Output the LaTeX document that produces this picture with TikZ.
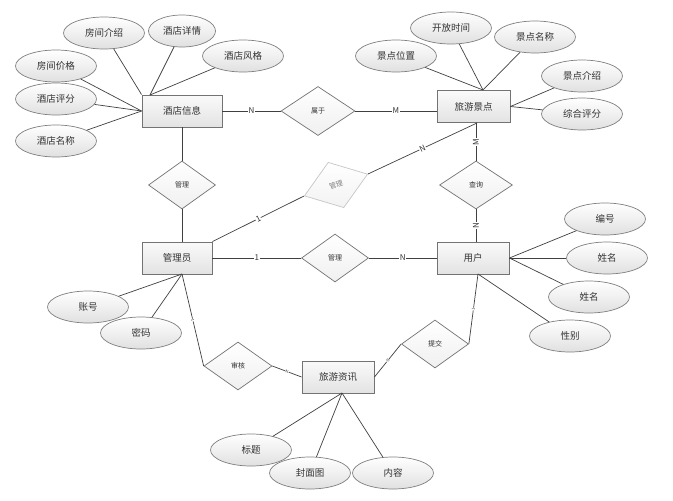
\documentclass[tikz,border=0pt]{standalone}
\usepackage{fontspec}
\setmainfont{Noto Sans CJK SC}
\usepackage{tikz}
\usetikzlibrary{shapes.geometric}

\begin{document}
\begin{tikzpicture}[x=1pt, y=-1pt, every node/.style={font=\fontsize{9.5}{11}\selectfont, text=black!80},
  ent/.style={draw=gray!90!black, line width=0.9pt, top color=gray!4, bottom color=gray!22, minimum width=72pt, minimum height=32pt, inner sep=0pt},
  attr/.style={ellipse, draw=gray, line width=0.7pt, top color=white, bottom color=gray!24, minimum width=81pt, minimum height=32pt, inner sep=0pt},
  rel/.style={diamond, draw=gray!90!black, line width=0.7pt, top color=white, bottom color=gray!12, minimum width=67pt, minimum height=48pt, inner sep=0pt, font=\fontsize{7}{8}\selectfont},
  link/.style={draw=black!75, line width=0.7pt},
  card/.style={font=\fontsize{8}{9}\selectfont, fill=white, inner sep=0.5pt},
  tick/.style={font=\fontsize{4}{5}\selectfont, fill=white, inner sep=0.3pt, sloped}]
\useasboundingbox[fill=white] (0,0) rectangle (673,501);

\node[ent, minimum width=80pt] (hotel) at (182,111) {酒店信息};
\node[ent, minimum width=73pt] (spot) at (473.5,106.5) {旅游景点};
\node[ent, minimum width=70pt] (admin) at (177,258) {管理员};
\node[ent] (user) at (473,258) {用户};
\node[ent] (news) at (338,377) {旅游资讯};

\node[rel, minimum width=74pt, minimum height=49pt] (belong) at (318,111) {属于};
\node[rel] (manhotel) at (182,185) {管理};
\node[rel, rotate=19, draw=gray!45, text=gray, bottom color=gray!10] (manspot) at (336,185) {管理};
\node[rel, minimum width=73pt] (query) at (476,185) {查询};
\node[rel] (manuser) at (335,258) {管理};
\node[rel, minimum width=68pt] (audit) at (238,366) {审核};
\node[rel] (submit) at (435,344) {提交};

\node[attr] (hintro) at (104,33) {房间介绍};
\node[attr, minimum width=67pt] (hdetail) at (182,31) {酒店详情};
\node[attr] (hstyle) at (243,56) {酒店风格};
\node[attr] (hprice) at (56,66) {房间价格};
\node[attr] (hscore) at (56,99) {酒店评分};
\node[attr] (hname) at (56,141) {酒店名称};

\node[attr] (sopen) at (451,28) {开放时间};
\node[attr] (sname) at (535,37) {景点名称};
\node[attr] (sloc) at (396,56) {景点位置};
\node[attr] (sintro) at (582,76) {景点介绍};
\node[attr] (sscore) at (582,114) {综合评分};

\node[attr] (aacc) at (88,307) {账号};
\node[attr] (apwd) at (141,333) {密码};

\node[attr] (uid) at (605,219) {编号};
\node[attr] (uname) at (607,258) {姓名};
\node[attr] (uname2) at (589,297) {姓名};
\node[attr] (usex) at (570,336) {性别};

\node[attr] (ntitle) at (251,450) {标题};
\node[attr] (ncover) at (310,473) {封面图};
\node[attr] (ntext) at (393,473) {内容};

\coordinate (htop) at (150,95);
\coordinate (stop) at (483,90);
\coordinate (sbot) at (477,123);
\coordinate (abot) at (182,274);
\coordinate (ubot) at (478,274);
\coordinate (nbot) at (342,393);

\draw[link] (hintro) -- (hotel.north west);
\draw[link] (hdetail) -- (htop);
\draw[link] (hstyle) -- (htop);
\draw[link] (hprice) -- (hotel.west);
\draw[link] (hscore) -- (hotel.west);
\draw[link] (hname) -- (hotel.west);

\draw[link] (sloc) -- (stop);
\draw[link] (sopen) -- (stop);
\draw[link] (sname) -- (stop);
\draw[link] (sintro) -- (spot.east);
\draw[link] (sscore) -- (spot.east);

\draw[link] (aacc) -- (abot);
\draw[link] (apwd) -- (abot);

\draw[link] (uid) -- (user.east);
\draw[link] (uname) -- (user.east);
\draw[link] (uname2) -- (user.east);
\draw[link] (usex) -- (ubot);

\draw[link] (ntitle) -- (nbot);
\draw[link] (ncover) -- (nbot);
\draw[link] (ntext) -- (nbot);

\draw[link] (hotel.east) -- node[card] {N} (belong.west);
\draw[link] (belong.east) -- node[card] {M} (belong.east -| spot.west);
\draw[link] (hotel.south) -- (manhotel.north);
\draw[link] (manhotel.south) -- (manhotel.south |- admin.north);
\draw[link] (admin.north east) -- node[card, sloped] {1} (manspot.west);
\draw[link] (manspot.east) -- node[card, sloped] {N} (sbot);
\draw[link] (query.north |- spot.south) -- node[card, rotate=90] {M} (query.north);
\draw[link] (query.south) -- node[card, rotate=90] {N} (query.south |- user.north);
\draw[link] (admin.east) -- node[card] {1} (manuser.west);
\draw[link] (manuser.east) -- node[card] {N} (user.west);
\draw[link] (abot) -- node[tick] {1} (audit.west);
\draw[link] (audit.east) -- node[tick] {N} (news.west);
\draw[link] (submit.west) -- node[tick] {N} (news.east);
\draw[link] (submit.east) -- node[tick] {1} (ubot);
\end{tikzpicture}
\end{document}
